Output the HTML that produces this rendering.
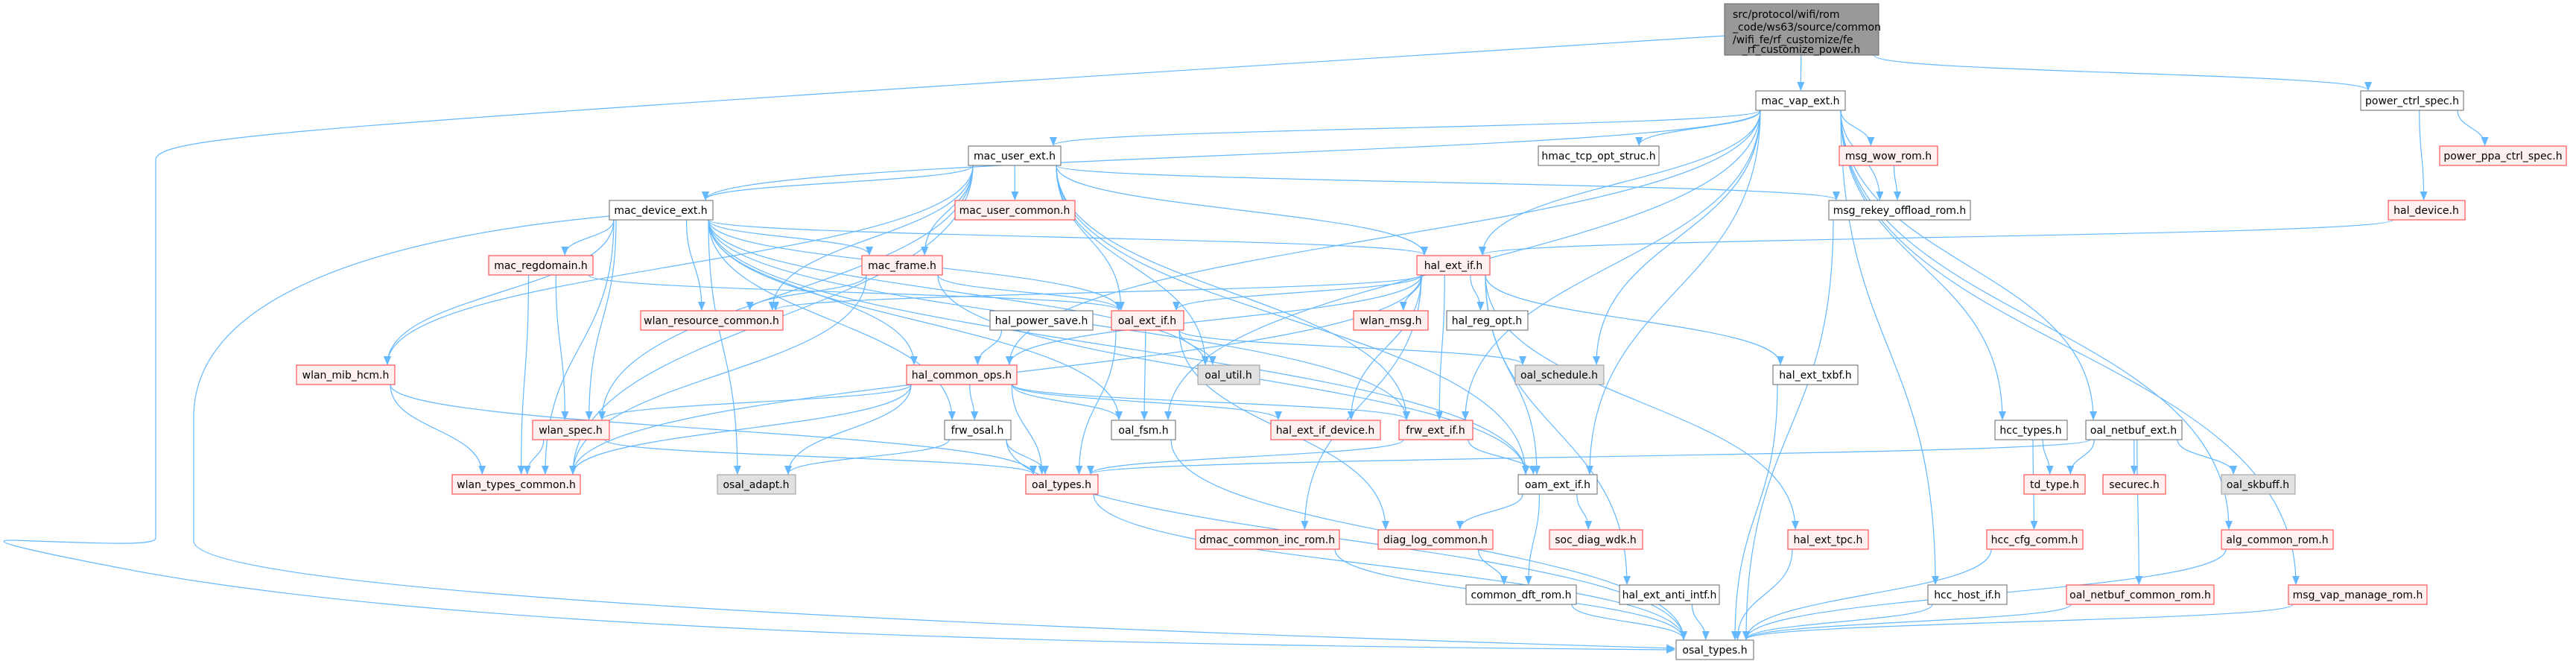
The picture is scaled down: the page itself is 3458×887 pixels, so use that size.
<!DOCTYPE html>
<html><head><meta charset="utf-8"><style>
html,body{margin:0;padding:0;background:#fff;width:3458px;height:887px;overflow:hidden}
svg{display:block}
text{font-family:"DejaVu Sans","Liberation Sans",sans-serif;font-size:14px;fill:#000}
</style></head><body>
<svg id="s" width="3458" height="887" xmlns="http://www.w3.org/2000/svg">
<defs><marker id="a" markerWidth="12" markerHeight="10" refX="11" refY="5" orient="auto" markerUnits="userSpaceOnUse"><path d="M0,0 L12,5 L0,10 z" fill="#63b8ff"/></marker></defs>
<g id="e" fill="none" stroke="#63b8ff" stroke-width="1.2">
<path d="M2315,48 C1500,100 700,150 420,175 C250,190 209,200 209,215 L209,722 C209,732 150,730 20,725 C-20,724 20,735 150,760 C600,850 1500,866 2248,872" marker-end="url(#a)"/>
<path d="M818,290 C500,320 260,400 260,560 L260,726 C260,780 900,830 2248,870" marker-end="url(#a)"/>
</g>
<g id="n">
<rect x="2315" y="5" width="207" height="69" fill="#999" stroke="#666"/>
<text x="2326" y="24">src/protocol/wifi/rom</text>
<text x="2326" y="41">_code/ws63/source/common</text>
<text x="2326" y="58">/wifi_fe/rf_customize/fe</text>
<text x="2418" y="71" text-anchor="middle">_rf_customize_power.h</text>
</g>
</svg>
<script>
var N={
mac_vap_ext:[2357,2477,135],power_ctrl_spec:[3169,3307,135],mac_user_ext:[1300,1424,209],hmac_tcp:[2065,2227,209],
msg_wow:[2469,2601,209],power_ppa:[3275,3445,209],mac_device_ext:[818,957,282],mac_user_common:[1282,1443,282],
msg_rekey:[2455,2645,282],hal_device:[3206,3309,282],mac_regdomain:[656,796,356],mac_frame:[1157,1265,356],
hal_ext_if:[1902,2000,356],wlan_resource_common:[860,1051,430],hal_power_save:[1329,1467,430],oal_ext_if:[1492,1589,430],
wlan_msg:[1817,1917,430],hal_reg_opt:[1942,2051,430],wlan_mib_hcm:[398,530,503],hal_common_ops:[1217,1365,503],
oal_util:[1608,1691,503],oal_schedule:[2034,2153,503],hal_ext_txbf:[2380,2494,503],wlan_spec:[715,818,577],
frw_osal:[1268,1357,577],oal_fsm:[1492,1578,577],hal_ext_if_device:[1706,1853,577],frw_ext_if:[1878,1977,577],
hcc_types:[2678,2775,577],oal_netbuf_ext:[2800,2929,577],wlan_types_common:[607,779,650],osal_adapt:[963,1068,650],
oal_types:[1377,1474,650],oam_ext_if:[2038,2144,650],td_type:[2717,2799,650],securec:[2823,2907,650],
oal_skbuff:[2982,3081,650],dmac_common:[1605,1798,724],diag_log:[1850,2004,724],soc_diag:[2080,2205,724],
hal_ext_tpc:[2400,2508,724],hcc_cfg:[2667,2796,724],alg_common:[2982,3132,724],common_dft:[1968,2116,798],
hal_anti:[2174,2308,798],hcc_host:[2588,2694,798],oal_netbuf_common:[2774,2972,798],msg_vap_manage:[3072,3258,798],
osal_types:[2250,2354,872]};
var E={
T:['mac_vap_ext','power_ctrl_spec'],
power_ctrl_spec:['hal_device','power_ppa'],
hal_device:['hal_ext_if'],
mac_vap_ext:['mac_user_ext','mac_device_ext','hmac_tcp','msg_wow','msg_rekey','hal_ext_if','oal_fsm','oal_schedule','oam_ext_if','frw_ext_if','hcc_types','oal_netbuf_ext','hcc_host','alg_common','msg_vap_manage','hal_common_ops'],
mac_user_ext:['mac_device_ext','mac_user_common','mac_frame','oal_ext_if','oal_util','hal_ext_if','msg_rekey','wlan_mib_hcm','wlan_spec','wlan_types_common','wlan_resource_common','frw_ext_if','oam_ext_if'],
mac_device_ext:['mac_regdomain','wlan_resource_common','mac_frame','hal_ext_if','oal_ext_if','hal_common_ops','frw_osal','wlan_mib_hcm','wlan_spec','wlan_types_common','osal_adapt','oal_fsm','frw_ext_if','oam_ext_if','oal_util'],
mac_regdomain:['wlan_spec','wlan_types_common','oal_ext_if'],
mac_frame:['wlan_resource_common','oal_ext_if','wlan_types_common','oam_ext_if'],
wlan_mib_hcm:['wlan_types_common','oal_types'],
wlan_spec:['wlan_types_common','oal_types'],
hal_ext_if:['oal_ext_if','wlan_msg','hal_reg_opt','hal_common_ops','hal_ext_if_device','frw_ext_if','oam_ext_if','dmac_common','hal_ext_txbf','hal_ext_tpc','hal_anti','wlan_types_common','wlan_resource_common'],
hal_power_save:['hal_common_ops'],
oal_ext_if:['oal_util','oal_schedule','oal_fsm','oal_types','diag_log'],
hal_common_ops:['wlan_spec','frw_osal','oal_fsm','oal_types','hal_ext_if_device','frw_ext_if','wlan_types_common','osal_adapt'],
frw_osal:['osal_adapt','oal_types','osal_types'],
oal_fsm:['osal_types'],
frw_ext_if:['oal_types','oam_ext_if'],
oal_types:['osal_types'],
oam_ext_if:['diag_log','soc_diag','common_dft'],
dmac_common:['osal_types'],diag_log:['common_dft'],common_dft:['osal_types'],hal_anti:['osal_types'],
hal_ext_txbf:['osal_types'],hal_ext_tpc:['osal_types'],hcc_host:['osal_types'],hcc_cfg:['osal_types'],
oal_netbuf_common:['osal_types'],msg_vap_manage:['osal_types'],alg_common:['osal_types'],msg_rekey:['osal_types'],
hcc_types:['td_type','hcc_cfg'],
oal_netbuf_ext:['td_type','securec','oal_skbuff','oal_netbuf_common','oal_types'],
msg_wow:['msg_rekey']};
N.T=[2315,2522,40];
var ns="http://www.w3.org/2000/svg",eg=document.getElementById('e');
function H(k){return k=='T'?34.5:13;}
for(var s in E){E[s].forEach(function(t){
 var a=N[s],b=N[t],ax=(a[0]+a[1])/2,bx=(b[0]+b[1])/2,d;
 if(Math.abs(a[2]-b[2])<5){
  var x1,x2;if(bx>ax){x1=a[1];x2=b[0]-1;}else{x1=a[0];x2=b[1]+1;}
  d='M'+x1+','+a[2]+' L'+x2+','+b[2];
 }else{
  var dn=b[2]>a[2];
  var sx=Math.max(a[0]+6,Math.min(a[1]-6,ax+(bx-ax)*0.5));
  var sy=a[2]+(dn?H(s):-H(s)),ty=b[2]+(dn?-14:14);
  var tx=Math.max(b[0]+10,Math.min(b[1]-10,bx+(ax-bx)*0.2));
  var m=(ty-sy)/2;
  d='M'+sx+','+sy+' C'+sx+','+(sy+m)+' '+tx+','+(ty-m)+' '+tx+','+ty;
 }
 var p=document.createElementNS(ns,'path');p.setAttribute('d',d);p.setAttribute('marker-end','url(#a)');eg.appendChild(p);
});}
</script>
<svg width="3458" height="887" style="position:absolute;left:0;top:0" xmlns="http://www.w3.org/2000/svg">
<g font-family="DejaVu Sans, Liberation Sans, sans-serif" font-size="14">
<rect x="2357" y="122" width="120" height="26" fill="#fff" stroke="#666"/><text x="2417" y="140" text-anchor="middle">mac_vap_ext.h</text>
<rect x="3169" y="122" width="138" height="26" fill="#fff" stroke="#666"/><text x="3238" y="140" text-anchor="middle">power_ctrl_spec.h</text>
<rect x="1300" y="196" width="124" height="26" fill="#fff" stroke="#666"/><text x="1362" y="214" text-anchor="middle">mac_user_ext.h</text>
<rect x="2065" y="196" width="162" height="26" fill="#fff" stroke="#666"/><text x="2146" y="214" text-anchor="middle">hmac_tcp_opt_struc.h</text>
<rect x="2469" y="196" width="132" height="26" fill="#fff0f0" stroke="#f33"/><text x="2535" y="214" text-anchor="middle">msg_wow_rom.h</text>
<rect x="3275" y="196" width="170" height="26" fill="#fff0f0" stroke="#f33"/><text x="3360" y="214" text-anchor="middle">power_ppa_ctrl_spec.h</text>
<rect x="818" y="269" width="139" height="26" fill="#fff" stroke="#666"/><text x="887" y="287" text-anchor="middle">mac_device_ext.h</text>
<rect x="1282" y="269" width="161" height="26" fill="#fff0f0" stroke="#f33"/><text x="1362" y="287" text-anchor="middle">mac_user_common.h</text>
<rect x="2455" y="269" width="190" height="26" fill="#fff" stroke="#666"/><text x="2550" y="287" text-anchor="middle">msg_rekey_offload_rom.h</text>
<rect x="3206" y="269" width="103" height="26" fill="#fff0f0" stroke="#f33"/><text x="3257" y="287" text-anchor="middle">hal_device.h</text>
<rect x="656" y="343" width="140" height="26" fill="#fff0f0" stroke="#f33"/><text x="726" y="361" text-anchor="middle">mac_regdomain.h</text>
<rect x="1157" y="343" width="108" height="26" fill="#fff0f0" stroke="#f33"/><text x="1211" y="361" text-anchor="middle">mac_frame.h</text>
<rect x="1902" y="343" width="98" height="26" fill="#fff0f0" stroke="#f33"/><text x="1951" y="361" text-anchor="middle">hal_ext_if.h</text>
<rect x="860" y="417" width="191" height="26" fill="#fff0f0" stroke="#f33"/><text x="955" y="435" text-anchor="middle">wlan_resource_common.h</text>
<rect x="1329" y="417" width="138" height="26" fill="#fff" stroke="#666"/><text x="1398" y="435" text-anchor="middle">hal_power_save.h</text>
<rect x="1492" y="417" width="97" height="26" fill="#fff0f0" stroke="#f33"/><text x="1540" y="435" text-anchor="middle">oal_ext_if.h</text>
<rect x="1817" y="417" width="100" height="26" fill="#fff0f0" stroke="#f33"/><text x="1867" y="435" text-anchor="middle">wlan_msg.h</text>
<rect x="1942" y="417" width="109" height="26" fill="#fff" stroke="#666"/><text x="1996" y="435" text-anchor="middle">hal_reg_opt.h</text>
<rect x="398" y="490" width="132" height="26" fill="#fff0f0" stroke="#f33"/><text x="464" y="508" text-anchor="middle">wlan_mib_hcm.h</text>
<rect x="1217" y="490" width="148" height="26" fill="#fff0f0" stroke="#f33"/><text x="1291" y="508" text-anchor="middle">hal_common_ops.h</text>
<rect x="1608" y="490" width="83" height="26" fill="#e0e0e0" stroke="#999"/><text x="1649" y="508" text-anchor="middle">oal_util.h</text>
<rect x="2034" y="490" width="119" height="26" fill="#e0e0e0" stroke="#999"/><text x="2093" y="508" text-anchor="middle">oal_schedule.h</text>
<rect x="2380" y="490" width="114" height="26" fill="#fff" stroke="#666"/><text x="2437" y="508" text-anchor="middle">hal_ext_txbf.h</text>
<rect x="715" y="564" width="103" height="26" fill="#fff0f0" stroke="#f33"/><text x="766" y="582" text-anchor="middle">wlan_spec.h</text>
<rect x="1268" y="564" width="89" height="26" fill="#fff" stroke="#666"/><text x="1312" y="582" text-anchor="middle">frw_osal.h</text>
<rect x="1492" y="564" width="86" height="26" fill="#fff" stroke="#666"/><text x="1535" y="582" text-anchor="middle">oal_fsm.h</text>
<rect x="1706" y="564" width="147" height="26" fill="#fff0f0" stroke="#f33"/><text x="1779" y="582" text-anchor="middle">hal_ext_if_device.h</text>
<rect x="1878" y="564" width="99" height="26" fill="#fff0f0" stroke="#f33"/><text x="1927" y="582" text-anchor="middle">frw_ext_if.h</text>
<rect x="2678" y="564" width="97" height="26" fill="#fff" stroke="#666"/><text x="2726" y="582" text-anchor="middle">hcc_types.h</text>
<rect x="2800" y="564" width="129" height="26" fill="#fff" stroke="#666"/><text x="2864" y="582" text-anchor="middle">oal_netbuf_ext.h</text>
<rect x="607" y="637" width="172" height="26" fill="#fff0f0" stroke="#f33"/><text x="693" y="655" text-anchor="middle">wlan_types_common.h</text>
<rect x="963" y="637" width="105" height="26" fill="#e0e0e0" stroke="#999"/><text x="1015" y="655" text-anchor="middle">osal_adapt.h</text>
<rect x="1377" y="637" width="97" height="26" fill="#fff0f0" stroke="#f33"/><text x="1425" y="655" text-anchor="middle">oal_types.h</text>
<rect x="2038" y="637" width="106" height="26" fill="#fff" stroke="#666"/><text x="2091" y="655" text-anchor="middle">oam_ext_if.h</text>
<rect x="2717" y="637" width="82" height="26" fill="#fff0f0" stroke="#f33"/><text x="2758" y="655" text-anchor="middle">td_type.h</text>
<rect x="2823" y="637" width="84" height="26" fill="#fff0f0" stroke="#f33"/><text x="2865" y="655" text-anchor="middle">securec.h</text>
<rect x="2982" y="637" width="99" height="26" fill="#e0e0e0" stroke="#999"/><text x="3031" y="655" text-anchor="middle">oal_skbuff.h</text>
<rect x="1605" y="711" width="193" height="26" fill="#fff0f0" stroke="#f33"/><text x="1701" y="729" text-anchor="middle">dmac_common_inc_rom.h</text>
<rect x="1850" y="711" width="154" height="26" fill="#fff0f0" stroke="#f33"/><text x="1927" y="729" text-anchor="middle">diag_log_common.h</text>
<rect x="2080" y="711" width="125" height="26" fill="#fff0f0" stroke="#f33"/><text x="2142" y="729" text-anchor="middle">soc_diag_wdk.h</text>
<rect x="2400" y="711" width="108" height="26" fill="#fff0f0" stroke="#f33"/><text x="2454" y="729" text-anchor="middle">hal_ext_tpc.h</text>
<rect x="2667" y="711" width="129" height="26" fill="#fff0f0" stroke="#f33"/><text x="2731" y="729" text-anchor="middle">hcc_cfg_comm.h</text>
<rect x="2982" y="711" width="150" height="26" fill="#fff0f0" stroke="#f33"/><text x="3057" y="729" text-anchor="middle">alg_common_rom.h</text>
<rect x="1968" y="785" width="148" height="26" fill="#fff" stroke="#666"/><text x="2042" y="803" text-anchor="middle">common_dft_rom.h</text>
<rect x="2174" y="785" width="134" height="26" fill="#fff" stroke="#666"/><text x="2241" y="803" text-anchor="middle">hal_ext_anti_intf.h</text>
<rect x="2588" y="785" width="106" height="26" fill="#fff" stroke="#666"/><text x="2641" y="803" text-anchor="middle">hcc_host_if.h</text>
<rect x="2774" y="785" width="198" height="26" fill="#fff0f0" stroke="#f33"/><text x="2873" y="803" text-anchor="middle">oal_netbuf_common_rom.h</text>
<rect x="3072" y="785" width="186" height="26" fill="#fff0f0" stroke="#f33"/><text x="3165" y="803" text-anchor="middle">msg_vap_manage_rom.h</text>
<rect x="2250" y="859" width="104" height="26" fill="#fff" stroke="#666"/><text x="2302" y="877" text-anchor="middle">osal_types.h</text>
</g></svg>
</body></html>
